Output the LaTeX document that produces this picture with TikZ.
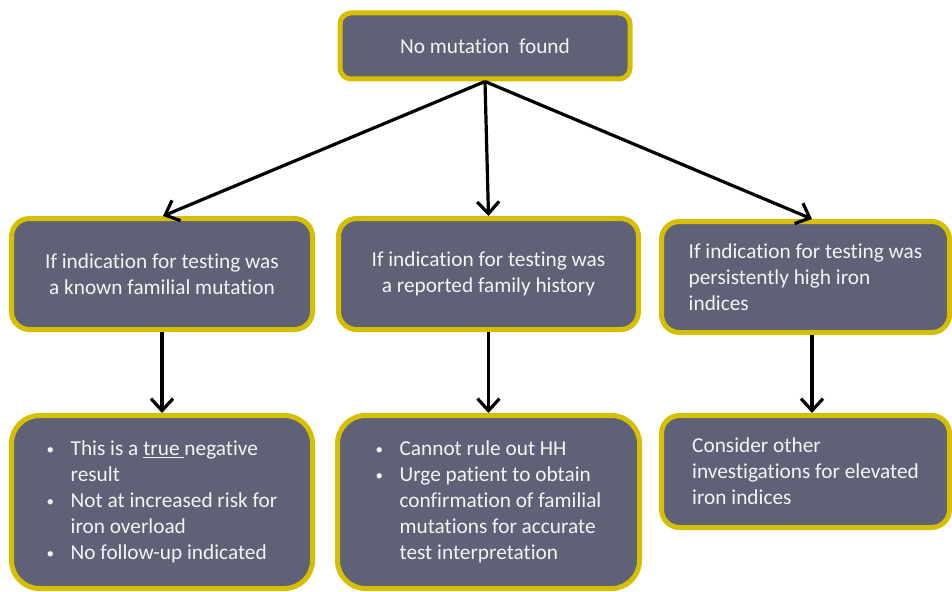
\documentclass[tikz,border=0pt]{standalone}
\usepackage{fontspec}
\setmainfont{Carlito}[Ligatures=NoCommon]
\usetikzlibrary{arrows.meta,calc}
\definecolor{boxfill}{RGB}{95,97,119}
\definecolor{boxedge}{RGB}{214,190,0}
\definecolor{txtcol}{RGB}{244,244,244}
\newcommand\mybul{\makebox[24pt][l]{\raisebox{1.5pt}{\fontsize{15}{15}\selectfont\textbullet}}}
\newcommand\myind{\hspace*{24pt}}
\begin{document}
\begin{tikzpicture}[x=1pt,y=-1pt,
  box/.style={draw=boxedge, fill=boxfill, line width=5pt, text=txtcol,
    font=\fontsize{21.3}{26}\selectfont, inner sep=0pt},
  arr/.style={line width=3.2pt, -{Straight Barb[length=12pt,width=22pt]}}]
\useasboundingbox (0,0) rectangle (952,591);
\node[box, rounded corners=11pt, minimum width=290pt, minimum height=66pt] (top) at (485,46) {No mutation\ \ found};
\node[box, rounded corners=18pt, minimum width=301pt, minimum height=111pt, align=center] (m1) at (162,274)
  {If indication for testing was\\a known familial mutation};
\node[box, rounded corners=18pt, minimum width=300pt, minimum height=111pt, align=center] (m2) at (488.5,274)
  {If indication for testing was\\a reported family history};
\node[box, rounded corners=18pt, minimum width=288pt, minimum height=111pt, align=left] (m3) at (805.5,277)
  {If indication for testing was\\persistently high iron\\indices};
\node[box, rounded corners=28pt, minimum width=301pt, minimum height=173pt, align=left] (b1) at (162,502)
  {\mybul This is a \underline{true\ }negative\\\myind result\\\mybul Not at increased risk for\\\myind iron overload\\\mybul No follow-up indicated};
\node[box, rounded corners=28pt, minimum width=302pt, minimum height=173pt, align=left] (b2) at (488.5,502)
  {\mybul Cannot rule out HH\\\mybul Urge patient to obtain\\\myind confirmation of familial\\\myind mutations for accurate\\\myind test interpretation};
\node[box, rounded corners=18pt, minimum width=288pt, minimum height=112pt, align=left] (b3) at (805.5,471.5)
  {Consider other\\investigations for elevated\\iron indices};
\draw[arr] (top.south) -- ($(m1.north)+(1,0)$);
\draw[arr] (top.south) -- (m2.north);
\draw[arr] (top.south) -- ($(m3.north)+(6.5,0)$);
\draw[arr] (m1.south) -- (b1.north);
\draw[arr] (m2.south) -- (b2.north);
\draw[arr] ($(m3.south)+(6.5,0)$) -- ($(b3.north)+(6.5,0)$);
\end{tikzpicture}
\end{document}
